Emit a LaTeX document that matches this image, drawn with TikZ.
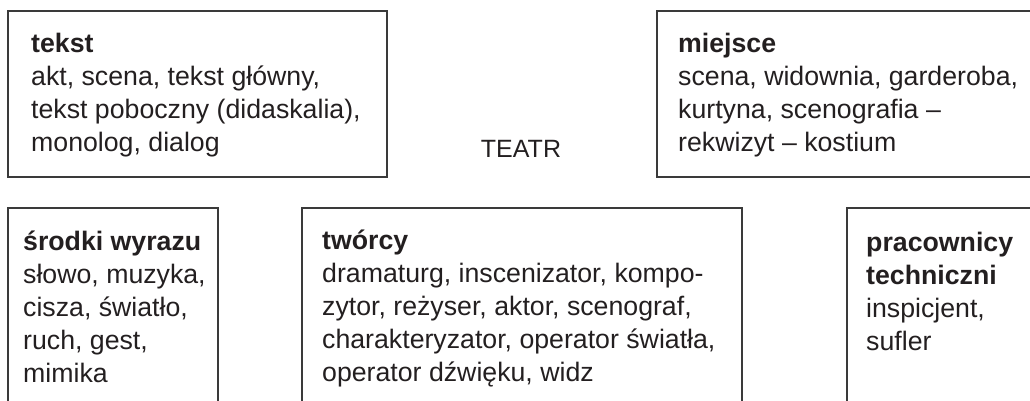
\documentclass[tikz,border=0pt]{standalone}
\usepackage{fontspec}
\setmainfont{Liberation Sans}
\definecolor{ink}{HTML}{231F20}
\definecolor{framegray}{HTML}{3A3A3A}
% fixed height of the first line, so a block's top lies 20pt above its first baseline
\newcommand{\toprow}{\rule{0pt}{20pt}}
\begin{document}
\begin{tikzpicture}[x=1pt,y=-1pt,
  frameline/.style={draw=framegray,line width=2pt},
  entry/.style={anchor=north west,inner sep=0pt,align=left,text=ink,
    font=\fontsize{26.7}{33}\selectfont}]
\useasboundingbox (0,0) rectangle (1030,400);
% frames (the right and lower ones run off the page edge)
\draw[frameline] (8,11) rectangle (387,177);
\draw[frameline] (1032,11) -- (657,11) -- (657,177) -- (1032,177);
\draw[frameline] (8,402) -- (8,208) -- (218,208) -- (218,402);
\draw[frameline] (302,402) -- (302,208) -- (742,208) -- (742,402);
\draw[frameline] (847,402) -- (847,208) -- (1032,208);
% texts: node position = first baseline minus 20pt
\node[entry] (tekst) at (31,32) {\toprow\textbf{tekst}\\akt, scena, tekst główny,\\tekst poboczny (didaskalia),\\monolog, dialog};
\node[entry] (miejsce) at (678,32) {\toprow\textbf{miejsce}\\scena, widownia, garderoba,\\kurtyna, scenografia –\\rekwizyt – kostium};
\node[entry] (srodki) at (23,230) {\toprow\textbf{środki wyrazu}\\słowo, muzyka,\\cisza, światło,\\ruch, gest,\\mimika};
\node[entry] (tworcy) at (322,229) {\toprow\textbf{twórcy}\\dramaturg, inscenizator, kompo-\\zytor, reżyser, aktor, scenograf,\\charakteryzator, operator światła,\\operator dźwięku, widz};
\node[entry] (pracownicy) at (866,231) {\toprow\textbf{pracownicy}\\\textbf{techniczni}\\inspicjent,\\sufler};
\node[anchor=base,inner sep=0pt,text=ink,font=\fontsize{25}{30}\selectfont] (teatr) at (521,157) {TEATR};
\end{tikzpicture}
\end{document}
